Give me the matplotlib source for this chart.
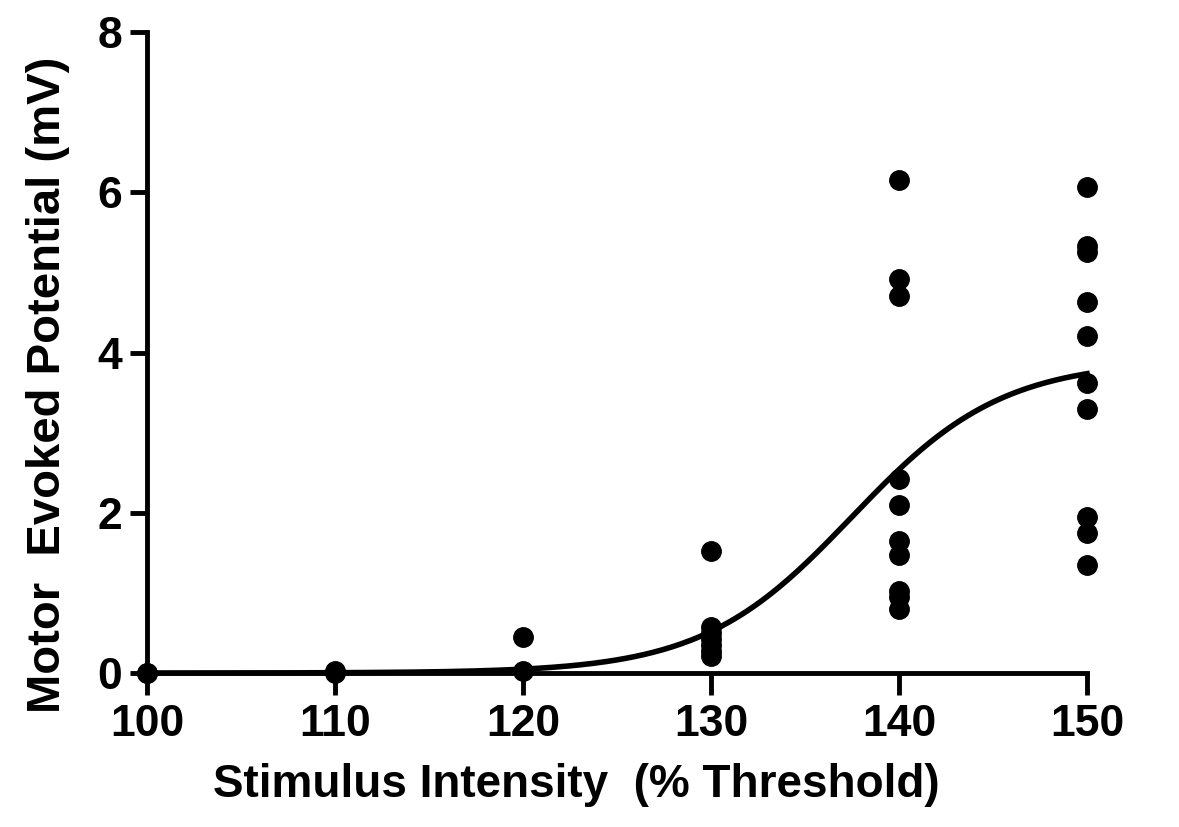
import numpy as np
import matplotlib.pyplot as plt

# Data
x_100 = [100, 100]
y_100 = [0.0, 0.0]
x_110 = [110, 110]
y_110 = [0.02, 0.0]
x_120 = [120, 120]
y_120 = [0.45, 0.02]
x_130 = [130] * 7
y_130 = [1.52, 0.57, 0.50, 0.42, 0.35, 0.28, 0.21]
x_140 = [140] * 10
y_140 = [6.15, 4.92, 4.70, 2.42, 2.10, 1.65, 1.47, 1.02, 0.95, 0.80]
x_150 = [150] * 10
y_150 = [6.07, 5.33, 5.26, 4.63, 4.20, 3.62, 3.30, 1.95, 1.75, 1.35]

xs = x_100 + x_110 + x_120 + x_130 + x_140 + x_150
ys = y_100 + y_110 + y_120 + y_130 + y_140 + y_150

# Sigmoidal fit parameters (Boltzmann)
top = 3.9
v50 = 137.5
slope = 4.0

xticks = [100, 110, 120, 130, 140, 150]
yticks = [0, 2, 4, 6, 8]

plt.rcParams['font.family'] = ['Liberation Sans', 'DejaVu Sans']
plt.rcParams['font.weight'] = 'bold'

fig = plt.figure(figsize=(11.79, 8.27), dpi=100)
ax = fig.add_axes([0.1247, 0.1862, 0.7973, 0.7751])

xf = np.linspace(100, 150, 300)
yf = top / (1 + np.exp((v50 - xf) / slope))
ax.plot(xf, yf, color='black', lw=4, clip_on=False, zorder=3)
ax.plot(xs, ys, 'o', color='black', ms=14, clip_on=False, zorder=4)

ax.set_xlim(100, 150)
ax.set_ylim(0, 8)
ax.set_xticks(xticks)
ax.set_yticks(yticks)
for s in ['top', 'right']:
    ax.spines[s].set_visible(False)
for s in ['left', 'bottom']:
    ax.spines[s].set_linewidth(3.5)
ax.tick_params(axis='both', width=3.5, labelsize=32, pad=6)
ax.tick_params(axis='y', length=12)
ax.tick_params(axis='x', length=16)

ax.set_xlabel('Stimulus Intensity  (% Threshold)', fontsize=33, fontweight='bold')
ax.set_ylabel('Motor  Evoked Potential (mV)', fontsize=34, fontweight='bold')
ax.xaxis.set_label_coords(0.457, -0.14)
ax.yaxis.set_label_coords(-0.082, 0.45)

fig.savefig('out.png', dpi=100)
